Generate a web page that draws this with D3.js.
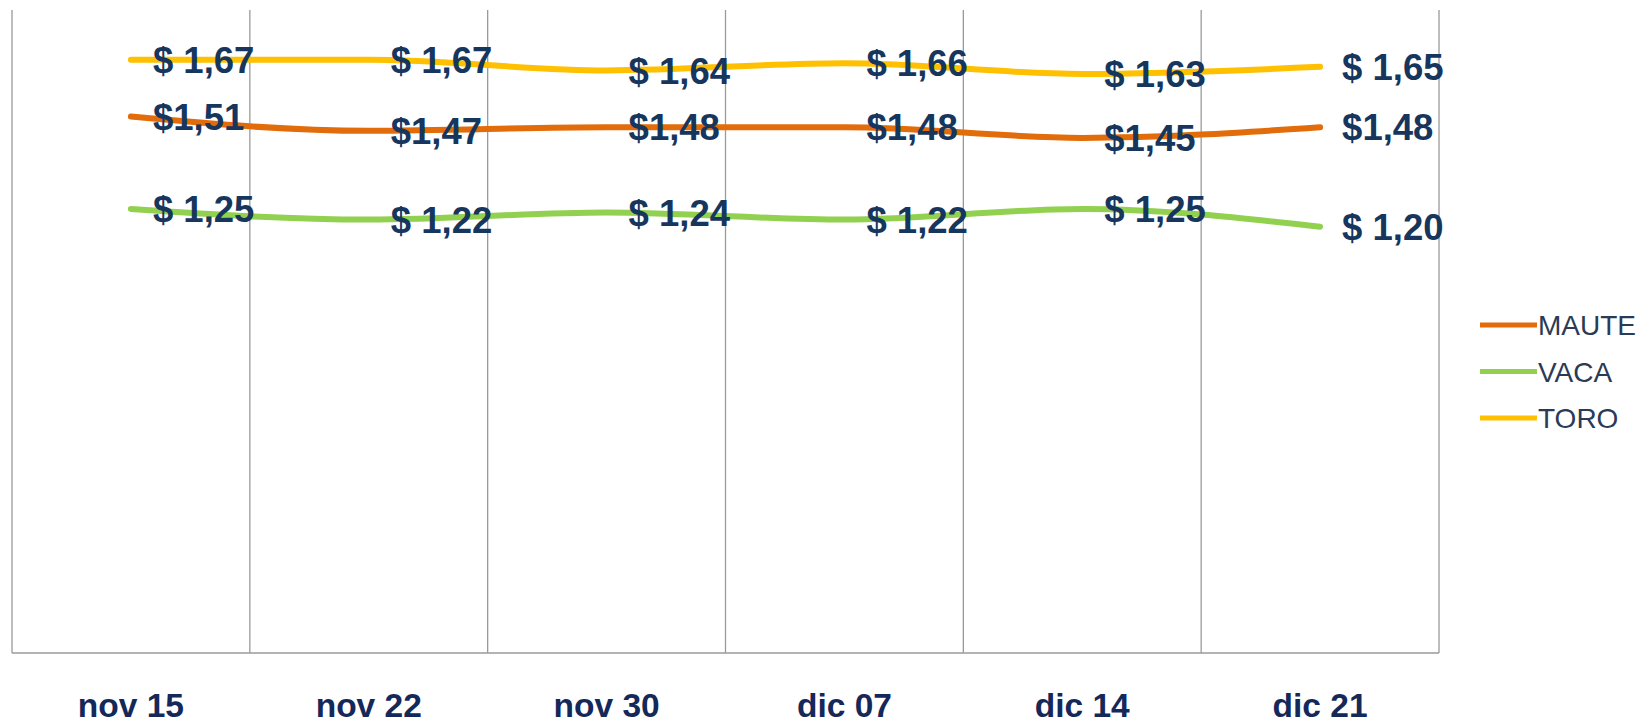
<!DOCTYPE html>
<html>
<head>
<meta charset="utf-8">
<script src="https://cdn.jsdelivr.net/npm/d3@7"></script>
<style>
  body { margin: 0; background: #fff; }
  svg { display: block; font-family: "Liberation Sans", Arial, sans-serif; }
</style>
</head>
<body>
<script>
// weekly prices
var categories = ["nov 15", "nov 22", "nov 30", "dic 07", "dic 14", "dic 21"];
var seriesNames = ["MAUTE", "VACA", "TORO"];
var maute = [1.51, 1.47, 1.48, 1.48, 1.45, 1.48];
var vaca = [1.25, 1.22, 1.24, 1.22, 1.25, 1.20];
var toro = [1.67, 1.67, 1.64, 1.66, 1.63, 1.65];
// MAUTE labels have no space after the $
var labelPrefix = ["$", "$ ", "$ "];

var width = 1649;
var height = 725;

var plot = { left: 12, right: 1439, top: 10, bottom: 653 };
var colors = ["#E26B0A", "#92D050", "#FFC000"];

var svg = d3
  .select("body")
  .append("svg")
  .attr("width", width)
  .attr("height", height);

var x = d3
  .scaleBand()
  .domain(categories)
  .range([plot.left, plot.right]);

var y = d3
  .scaleLinear()
  .domain([0, 1.81])
  .range([plot.bottom, plot.top]);

// vertical grid lines at band edges
var edges = categories.map(function(c) {
  return x(c);
});
edges.push(plot.right);

svg
  .selectAll("line.grid")
  .data(edges)
  .enter()
  .append("line")
  .attr("class", "grid")
  .attr("x1", function(d) { return d; })
  .attr("x2", function(d) { return d; })
  .attr("y1", plot.top)
  .attr("y2", plot.bottom)
  .attr("stroke", "#9a9a9a")
  .attr("stroke-width", 1.3);

svg
  .append("line")
  .attr("x1", plot.left)
  .attr("x2", plot.right)
  .attr("y1", plot.bottom)
  .attr("y2", plot.bottom)
  .attr("stroke", "#9a9a9a")
  .attr("stroke-width", 1.3);

// category labels
var xAxis = svg
  .append("g")
  .attr("transform", "translate(0," + plot.bottom + ")")
  .call(d3.axisBottom(x).tickSize(0).tickPadding(0));
xAxis.select(".domain").remove();
xAxis
  .selectAll("text")
  .attr("y", 64)
  .attr("dy", 0)
  .attr("font-size", 33.5)
  .attr("font-weight", "bold")
  .attr("fill", "#14285A")
  .attr("font-family", "Liberation Sans, Arial, sans-serif");

var allSeries = [maute, vaca, toro];

var line = d3
  .line()
  .x(function(d, i) { return x(categories[i]) + x.bandwidth() / 2; })
  .y(function(d) { return y(d); })
  .curve(d3.curveMonotoneX);

allSeries.forEach(function(values, s) {
  svg
    .append("path")
    .datum(values)
    .attr("d", line)
    .attr("fill", "none")
    .attr("stroke", colors[s])
    .attr("stroke-width", 6)
    .attr("stroke-linecap", "round");
});

// data labels
allSeries.forEach(function(values, s) {
  svg
    .append("g")
    .selectAll("text")
    .data(values)
    .enter()
    .append("text")
    .attr("x", function(d, i) { return x(categories[i]) + x.bandwidth() / 2 + 22; })
    .attr("y", function(d) { return y(d); })
    .attr("dy", "0.36em")
    .attr("font-size", 36.5)
    .attr("font-weight", "bold")
    .attr("fill", "#17365D")
    .text(function(d) {
      return labelPrefix[s] + d.toFixed(2).replace(".", ",");
    });
});

// legend
var legend = svg
  .append("g")
  .selectAll("g")
  .data(seriesNames)
  .enter()
  .append("g")
  .attr("transform", function(d, i) {
    return "translate(1480," + (325 + i * 46.5) + ")";
  });

legend
  .append("line")
  .attr("x1", 0)
  .attr("x2", 57)
  .attr("stroke", function(d, i) { return colors[i]; })
  .attr("stroke-width", 5);

legend
  .append("text")
  .attr("x", 58)
  .attr("dy", "0.36em")
  .attr("font-size", 28)
  .attr("fill", "#2B3A55")
  .text(function(d) { return d; });
</script>
</body>
</html>
